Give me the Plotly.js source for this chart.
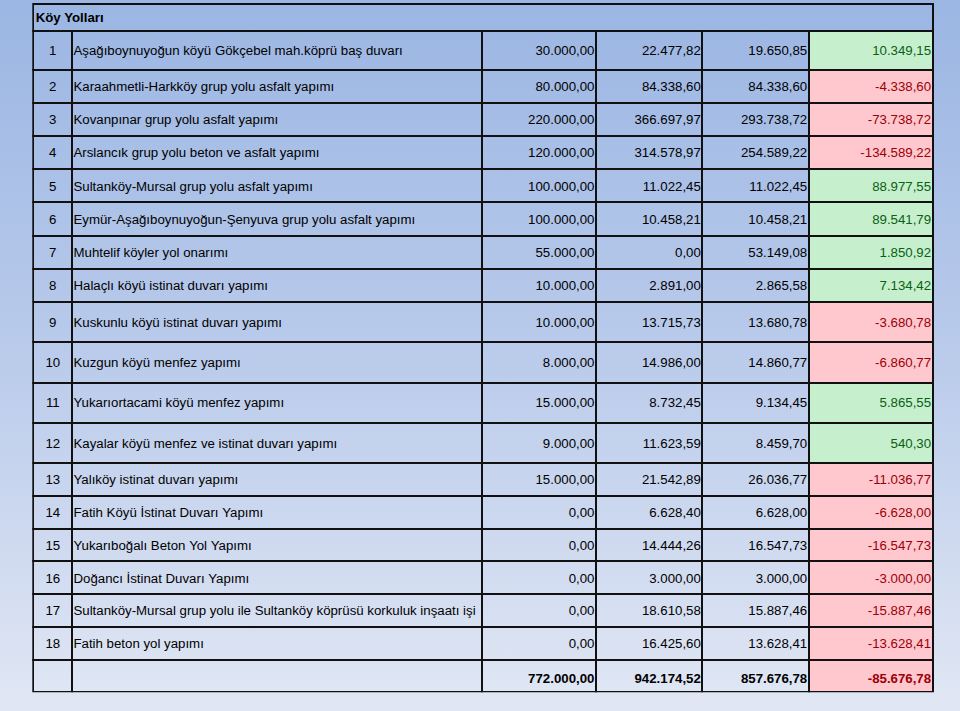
<!DOCTYPE html>
<html><head><meta charset="utf-8">
<script src="https://cdn.plot.ly/plotly-3.0.1.min.js"></script>
<style>
html,body{margin:0;padding:0;width:960px;height:711px;overflow:hidden;}
body{background:linear-gradient(to bottom,#9bb6e3 0%,#bacbeb 50%,#e1e7f4 100%);}
#chart{width:960px;height:711px;}
</style></head><body><div id="chart"></div>
<script>
const title = 'Köy Yolları';
const nos = [1,2,3,4,5,6,7,8,9,10,11,12,13,14,15,16,17,18];
const items = [
  'Aşağıboynuyoğun köyü Gökçebel mah.köprü baş duvarı',
  'Karaahmetli-Harkköy grup yolu asfalt yapımı',
  'Kovanpınar grup yolu asfalt yapımı',
  'Arslancık grup yolu beton ve asfalt yapımı',
  'Sultanköy-Mursal grup yolu asfalt yapımı',
  'Eymür-Aşağıboynuyoğun-Şenyuva grup yolu asfalt yapımı',
  'Muhtelif köyler yol onarımı',
  'Halaçlı köyü istinat duvarı yapımı',
  'Kuskunlu köyü istinat duvarı yapımı',
  'Kuzgun köyü menfez yapımı',
  'Yukarıortacami köyü menfez yapımı',
  'Kayalar köyü menfez ve istinat duvarı yapımı',
  'Yalıköy istinat duvarı yapımı',
  'Fatih Köyü İstinat Duvarı Yapımı',
  'Yukarıboğalı Beton Yol Yapımı',
  'Doğancı İstinat Duvarı Yapımı',
  'Sultanköy-Mursal grup yolu ile Sultanköy köprüsü korkuluk inşaatı işi',
  'Fatih beton yol yapımı'
];
const planned = [30000, 80000, 220000, 120000, 100000, 100000, 55000, 10000, 10000, 8000, 15000, 9000, 15000, 0, 0, 0, 0, 0];
const spentA = [22477.82, 84338.60, 366697.97, 314578.97, 11022.45, 10458.21, 0, 2891.00, 13715.73, 14986.00, 8732.45, 11623.59, 21542.89, 6628.40, 14444.26, 3000.00, 18610.58, 16425.60];
const spentB = [19650.85, 84338.60, 293738.72, 254589.22, 11022.45, 10458.21, 53149.08, 2865.58, 13680.78, 14860.77, 9134.45, 8459.70, 26036.77, 6628.00, 16547.73, 3000.00, 15887.46, 13628.41];
const diff = [10349.15, -4338.60, -73738.72, -134589.22, 88977.55, 89541.79, 1850.92, 7134.42, -3680.78, -6860.77, 5865.55, 540.30, -11036.77, -6628.00, -16547.73, -3000.00, -15887.46, -13628.41];
const totals = [772000.00, 942174.52, 857676.78, -85676.78];

function fmt(v){
  const neg = v < 0;
  const s = Math.abs(v).toFixed(2).split('.');
  const intp = s[0].replace(/\B(?=(\d{3})+(?!\d))/g, '.');
  return (neg ? '-' : '') + intp + ',' + s[1];
}

const W = 960, H = 711;
const FONT = 'Liberation Sans, Arial, sans-serif';
const FS = 13.25;
const LINE = '#111111', LW = 2;
const GREEN_FILL = '#c6efce', GREEN_TXT = '#0a6112';
const RED_FILL = '#ffc7ce', RED_TXT = '#9c0006';
const CLEAR = 'rgba(0,0,0,0)';
const PC = 13.2; // plotly text centre offset from cell top

// border layer column edges (px)
const bEdges = [33.3, 72.3, 481.7, 596, 702.3, 809, 933.3];
// text layer column edges (px) shifted to compensate cell padding
const tEdges = [40.1, 65.5, 513, 603, 709.5, 816, 940];
const widths = e => e.slice(1).map((x, i) => x - e[i]);
const aligns = ['center', 'left', 'right', 'right', 'right', 'right'];

function yd(top, h){ return [Math.max(0, 1 - (top + h + 1) / H), 1 - top / H]; }

const traces = [];

// title row (single merged cell); a 1px invisible spacer row keeps the table valid
traces.push({type:'table', domain:{x:[bEdges[0]/W, bEdges[6]/W], y:yd(4, 26.7 + 1)}, columnwidth:[1],
  header:{values:[''], height:26.7, fill:{color:CLEAR}, line:{color:LINE, width:LW}},
  cells:{values:[['']], height:1, line:{color:CLEAR, width:0}, fill:{color:CLEAR}}});
traces.push({type:'table', domain:{x:[27.7/W, 933.3/W], y:yd(4 + 26.7/2 - PC - 2, 26.7 + 1)}, columnwidth:[1],
  header:{values:['<b>' + title + '</b>'], height:26.7, align:'left', fill:{color:CLEAR}, line:{color:CLEAR, width:0},
    font:{family:FONT, size:FS, color:'#000'}},
  cells:{values:[['']], height:1, line:{color:CLEAR, width:0}, fill:{color:CLEAR}}});

function group(idxs, withTotal, top, Hh, Hc){
  const rows = idxs.map(i => ({v:[String(nos[i]), items[i].replace(/ /g, '\u00a0'), fmt(planned[i]), fmt(spentA[i]), fmt(spentB[i]), fmt(diff[i])], d:diff[i]}));
  if (withTotal) rows.push({v:['', '', ...totals.map(t => '<b>' + fmt(t) + '</b>')], d:totals[3]});
  const n = rows.length - 1;
  const fillFor = d => d >= 0 ? GREEN_FILL : RED_FILL;
  const txtFor = d => d >= 0 ? GREEN_TXT : RED_TXT;
  const hFill = [0,1,2,3,4,5].map(c => c === 5 ? fillFor(rows[0].d) : CLEAR);
  const hFont = [0,1,2,3,4,5].map(c => c === 5 ? txtFor(rows[0].d) : '#000');
  const cFill = [0,1,2,3,4,5].map(c => rows.slice(1).map(r => c === 5 ? fillFor(r.d) : CLEAR));
  const cFont = [0,1,2,3,4,5].map(c => rows.slice(1).map(r => c === 5 ? txtFor(r.d) : '#000'));
  // border + fill layer
  traces.push({type:'table', domain:{x:[bEdges[0]/W, bEdges[6]/W], y:yd(top, Hh + n*Hc)}, columnwidth:widths(bEdges),
    header:{values:[0,1,2,3,4,5].map(() => ''), height:Hh, fill:{color:hFill}, line:{color:LINE, width:LW}},
    cells:{values:[0,1,2,3,4,5].map(() => rows.slice(1).map(() => '')), height:Hc, fill:{color:cFill}, line:{color:LINE, width:LW}}});
  // text layer
  const s = Hh/2 - PC;
  const HhT = (Hh + Hc) / 2;
  traces.push({type:'table', domain:{x:[tEdges[0]/W, tEdges[6]/W], y:yd(top + s, HhT + n*Hc)}, columnwidth:widths(tEdges),
    header:{values:[0,1,2,3,4,5].map(c => rows[0].v[c]), height:HhT, align:aligns, fill:{color:CLEAR}, line:{color:CLEAR, width:0},
      font:{family:FONT, size:FS, color:hFont}},
    cells:{values:[0,1,2,3,4,5].map(c => rows.slice(1).map(r => r.v[c])), height:Hc, align:aligns, fill:{color:CLEAR}, line:{color:CLEAR, width:0},
      font:{family:FONT, size:FS, color:cFont}}});
}

group([0,1,2,3,4,5,6,7], false, 30.7, 39.3, 33.1);
group([8,9,10,11], false, 301.7, 40.4, 40.4);
group([12,13,14,15,16,17], true, 463.3, 32.71, 32.71);

Plotly.newPlot('chart', traces, {
  width:W, height:H, margin:{l:0, r:0, t:0, b:0},
  paper_bgcolor:CLEAR, plot_bgcolor:CLEAR, showlegend:false,
  font:{family:FONT, size:FS, color:'#000'}
}, {staticPlot:true, displayModeBar:false});
</script></body></html>
